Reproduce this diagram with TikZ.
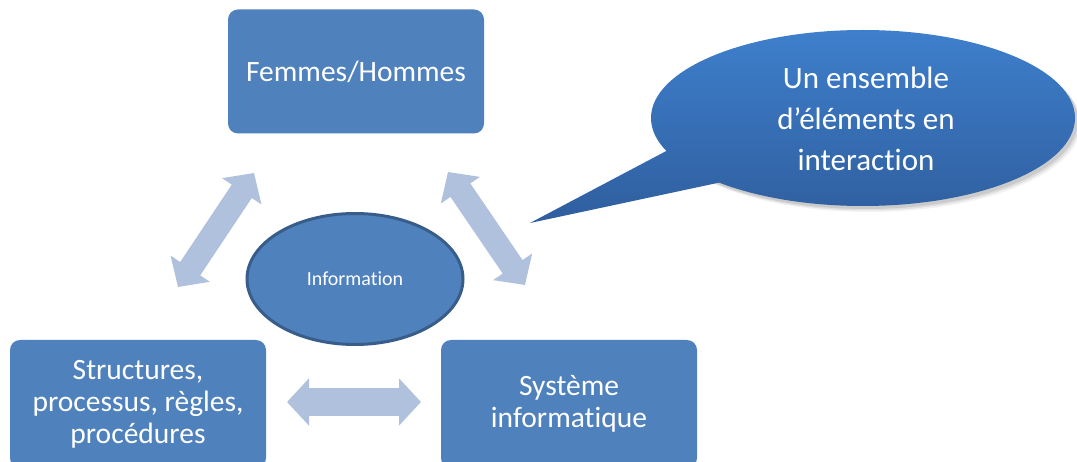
\documentclass[tikz,border=0pt]{standalone}
\usepackage{fontspec}
\setmainfont{Carlito}[Ligatures=NoCommon]
\usetikzlibrary{shapes.geometric,arrows.meta}
\definecolor{boxblue}{RGB}{79,129,189}
\definecolor{boxedge}{RGB}{56,93,138}
\definecolor{arrowblue}{RGB}{176,193,222}
\definecolor{calltop}{RGB}{62,127,204}
\definecolor{callbot}{RGB}{47,94,158}
\tikzset{
  box/.style={rectangle, rounded corners=10pt, fill=boxblue, text=white, align=center,
    minimum width=256pt, inner sep=0pt, font=\fontsize{29.5}{32}\selectfont},
  infonode/.style={ellipse, draw=boxedge, line width=3pt, fill=boxblue, text=white,
    minimum width=216pt, minimum height=131pt, inner sep=0pt, font=\fontsize{20}{24}\selectfont},
  fatarrow/.style={draw=arrowblue, line width=24pt, line cap=butt,
    {Triangle[width=46pt,length=22pt]}-{Triangle[width=46pt,length=22pt]}},
  calltext/.style={text=white, align=center, font=\fontsize{31}{41}\selectfont}
}
\begin{document}
\begin{tikzpicture}[x=1pt,y=-1pt]
\useasboundingbox (0,0) rectangle (1077,462);
\clip (0,0) rectangle (1077,462);
\fill[white] (0,0) rectangle (1077,462);

% boxes
\node[box, minimum height=124pt] (fh) at (356,71.5) {Femmes/Hommes};
\node[box, minimum height=128pt] (spr) at (138,404) {Structures,\\processus, règles,\\procédures};
\node[box, minimum height=128pt] (si) at (569,404) {Système\\informatique};

% central ellipse
\node[infonode] (info) at (355,279) {Information};

% double arrows
\coordinate (la) at (178,287);
\coordinate (lb) at (254,173);
\coordinate (ra) at (448,172);
\coordinate (rb) at (525,285);
\coordinate (ba) at (287,402);
\coordinate (bb) at (421,402);
\draw[fatarrow] (la) -- (lb);
\draw[fatarrow] (ra) -- (rb);
\draw[fatarrow, line width=28pt] (ba) -- (bb);

% callout shadow
\foreach \o/\op in {6/0.05,4.5/0.07,3/0.09}{
  \fill[black, opacity=\op] (863+\o,118+\o) ellipse [x radius=212, y radius=88];
}
% callout
\coordinate (tip) at (530,223);
\path[top color=calltop, bottom color=callbot]
  (863,118) ellipse [x radius=212, y radius=88]
  (722,182) -- (tip) -- (672,148) -- cycle;
\node[calltext] (ct) at (866,119) {Un ensemble\\d’éléments en\\interaction};
\end{tikzpicture}
\end{document}
